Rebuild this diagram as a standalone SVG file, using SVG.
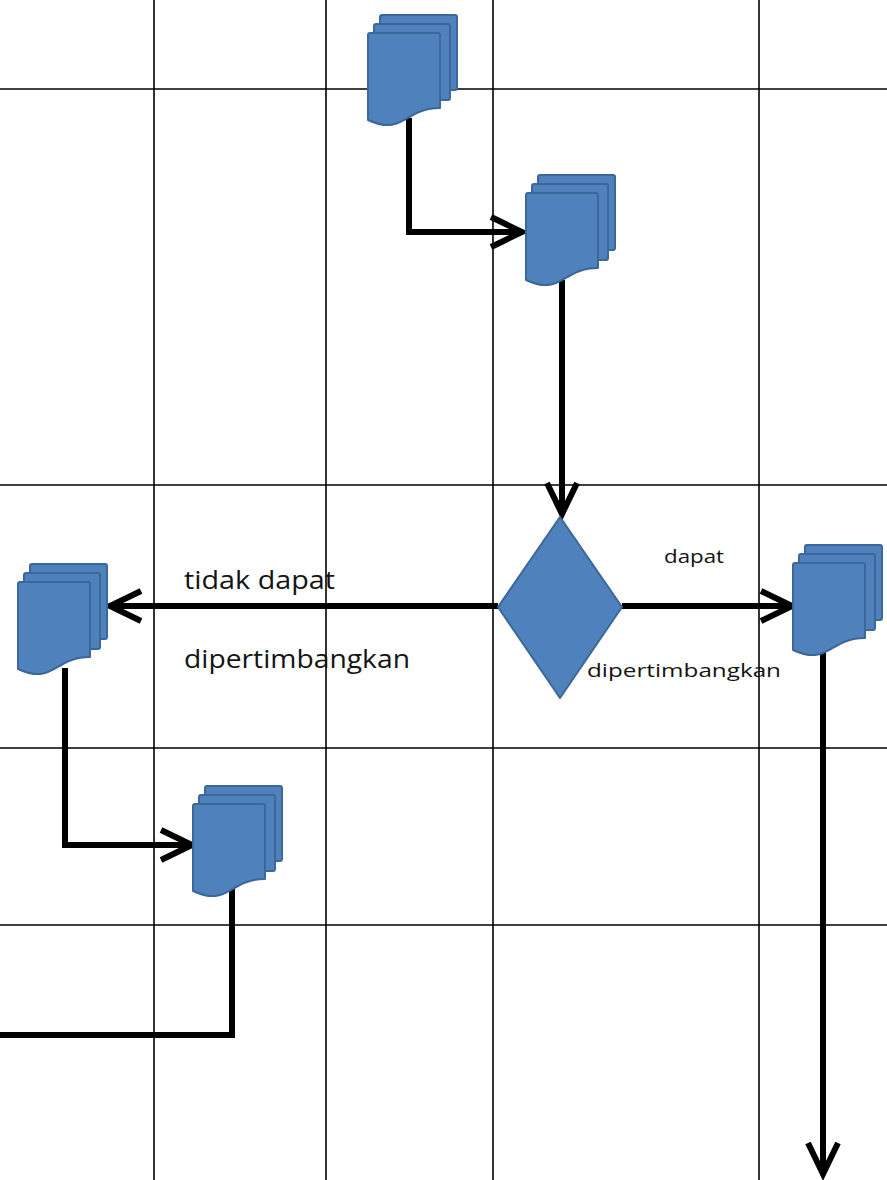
<svg xmlns="http://www.w3.org/2000/svg" xmlns:xlink="http://www.w3.org/1999/xlink" width="887" height="1180" viewBox="0 0 887 1180">
  <style>
    .grid { stroke: #000; stroke-width: 1.6; fill: none; }
    .page { fill: #4F81BD; stroke: #3B679A; stroke-width: 2; stroke-linejoin: round; }
    .flow { stroke: #000; stroke-width: 6; fill: none; stroke-linejoin: miter; }
    .lbl { font-family: "Open Sans", Lato, "Liberation Sans", sans-serif; fill: #141414; }
  </style>
  <defs>
    <!-- open chevron arrowhead -->
    <marker id="chev" markerUnits="userSpaceOnUse" orient="auto" refX="0" refY="0"
            markerWidth="40" markerHeight="40" overflow="visible">
      <path d="M-31,-15 L0,0 L-31,15" fill="none" stroke="#000" stroke-width="6" stroke-linejoin="miter"/>
    </marker>
    <!-- stacked-document symbol, origin at front-left / back-top -->
    <g id="multidoc">
      <rect class="page" x="12" y="0" width="77" height="75" rx="2"/>
      <rect class="page" x="6" y="9" width="76" height="76" rx="2"/>
      <path class="page" d="M2,18 H70 Q72,18 72,20 V93 C36,93 36,121.5 0,105 V20 Q0,18 2,18 Z"/>
    </g>
  </defs>

  <rect width="887" height="1180" fill="#fff"/>

  <!-- table grid -->
  <g id="grid" class="grid">
    <line x1="154" y1="0" x2="154" y2="1180"/>
    <line x1="326" y1="0" x2="326" y2="1180"/>
    <line x1="493" y1="0" x2="493" y2="1180"/>
    <line x1="759" y1="0" x2="759" y2="1180"/>
    <line x1="0" y1="89" x2="887" y2="89"/>
    <line x1="0" y1="485" x2="887" y2="485"/>
    <line x1="0" y1="748" x2="887" y2="748"/>
    <line x1="0" y1="925" x2="887" y2="925"/>
  </g>

  <!-- connectors -->
  <g id="connectors" class="flow">
    <path d="M409,118 V232 H522" marker-end="url(#chev)"/>
    <path d="M562,280 V514" marker-end="url(#chev)"/>
    <path d="M498,606 H110" marker-end="url(#chev)"/>
    <path d="M622,606 H792" marker-end="url(#chev)"/>
    <path d="M65,668 V845 H192" marker-end="url(#chev)"/>
    <path d="M232,886 V1035 H0"/>
    <path d="M823,650 V1174" marker-end="url(#chev)"/>
  </g>

  <!-- nodes -->
  <g id="doc1"><use xlink:href="#multidoc" transform="translate(368,15)"/></g>
  <g id="doc2"><use xlink:href="#multidoc" transform="translate(526,175)"/></g>
  <g id="decision"><polygon class="page" points="560,517 622,607 560,698 498,607"/></g>
  <g id="doc-reject"><use xlink:href="#multidoc" transform="translate(18,564)"/></g>
  <g id="doc-reject-next"><use xlink:href="#multidoc" transform="translate(193,786)"/></g>
  <g id="doc-accept"><use xlink:href="#multidoc" transform="translate(793,545)"/></g>

  <!-- labels -->
  <g id="labels">
    <text class="lbl" x="184" y="589" font-size="25" textLength="151" lengthAdjust="spacingAndGlyphs">tidak dapat</text>
    <text class="lbl" x="184" y="668" font-size="25" textLength="226" lengthAdjust="spacingAndGlyphs">dipertimbangkan</text>
    <text class="lbl" x="664" y="563" font-size="18" textLength="60" lengthAdjust="spacingAndGlyphs">dapat</text>
    <text class="lbl" x="587" y="677" font-size="19" textLength="194" lengthAdjust="spacingAndGlyphs">dipertimbangkan</text>
  </g>
</svg>
